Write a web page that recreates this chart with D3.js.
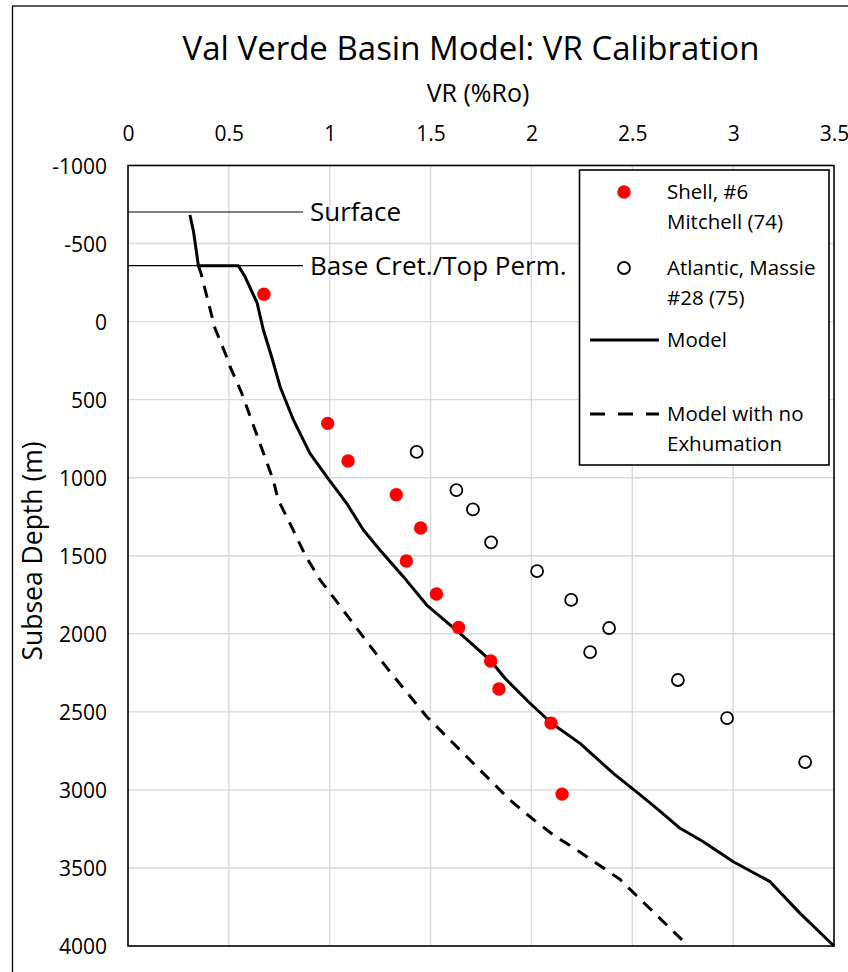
<!DOCTYPE html>
<html>
<head>
<meta charset="utf-8">
<script src="https://cdn.jsdelivr.net/npm/d3@7"></script>
<style>
  body { margin: 0; background: #fff; }
  text { font-family: "Open Sans", Lato, sans-serif; fill: #000; }
</style>
</head>
<body>
<div id="chart"></div>
<script>
// data
const xTicks = [0, 0.5, 1, 1.5, 2, 2.5, 3, 3.5]
const yTicks = [-1000, -500, 0, 500, 1000, 1500, 2000, 2500, 3000, 3500, 4000]

const shellVR = [0.674, 0.990, 1.091, 1.330, 1.451, 1.380, 1.529, 1.639, 1.798, 1.839, 2.097, 2.152]
const shellDepth = [-175, 652, 893, 1109, 1322, 1534, 1745, 1959, 2174, 2354, 2572, 3027]

const atlanticVR = [1.431, 1.628, 1.710, 1.800, 2.028, 2.197, 2.385, 2.291, 2.726, 2.970, 3.357]
const atlanticDepth = [835, 1079, 1203, 1414, 1598, 1783, 1963, 2117, 2296, 2540, 2822]

const modelVR = [0.307, 0.325, 0.349, 0.547, 0.580, 0.640, 0.671, 0.712, 0.754, 0.820, 0.902, 0.985, 1.084, 1.167, 1.249, 1.365, 1.481, 1.646, 1.795, 1.869, 1.993, 2.100, 2.241, 2.406, 2.530, 2.621, 2.737, 2.852, 3.001, 3.183, 3.332, 3.500]
const modelDepth = [-683, -576, -358, -358, -288, -120, 54, 225, 417, 630, 844, 993, 1164, 1335, 1463, 1634, 1816, 1997, 2168, 2285, 2445, 2573, 2702, 2894, 3022, 3118, 3246, 3332, 3460, 3588, 3791, 4000]

const noExhVR = [0.349, 0.362, 0.431, 0.489, 0.506, 0.564, 0.654, 0.720, 0.745, 0.811, 0.878, 0.952, 1.035, 1.134, 1.266, 1.299, 1.481, 1.580, 1.795, 1.861, 1.894, 1.993, 2.109, 2.220, 2.439, 2.472, 2.778]
const noExhDepth = [-358, -309, 43, 225, 289, 459, 780, 1015, 1143, 1314, 1495, 1655, 1794, 1965, 2189, 2243, 2531, 2659, 2937, 3022, 3065, 3172, 3289, 3380, 3573, 3616, 4000]

const refNames = ["Surface", "Base Cret./Top Perm."]
const refDepths = [-702, -358]

const legendNames = [["Shell, #6", "Mitchell (74)"], ["Atlantic, Massie", "#28 (75)"], ["Model"], ["Model with no", "Exhumation"]]

const W = 848, H = 972
const plot = { left: 128, top: 165.5, right: 834, bottom: 946 }

const svg = d3.select("#chart").append("svg")
  .attr("width", W)
  .attr("height", H)

// outer frame (only left/top visible)
svg.append("rect")
  .attr("x", 12.5).attr("y", 6)
  .attr("width", 1000).attr("height", 1000)
  .attr("fill", "none")
  .attr("stroke", "#000")
  .attr("stroke-width", 1.3)

const x = d3.scaleLinear().domain([0, 3.5]).range([plot.left, plot.right])
const y = d3.scaleLinear().domain([-1000, 4000]).range([plot.top, plot.bottom])

// grid
svg.append("g").selectAll("line").data(xTicks.slice(1, -1)).enter().append("line")
  .attr("x1", d => x(d)).attr("x2", d => x(d))
  .attr("y1", plot.top).attr("y2", plot.bottom)
  .attr("stroke", "#d9d9d9").attr("stroke-width", 1.4)
svg.append("g").selectAll("line").data(yTicks.slice(1, -1)).enter().append("line")
  .attr("x1", plot.left).attr("x2", plot.right)
  .attr("y1", d => y(d)).attr("y2", d => y(d))
  .attr("stroke", "#d9d9d9").attr("stroke-width", 1.4)

// axes (labels only, Excel style)
const xAxis = svg.append("g")
  .attr("transform", `translate(0, 141)`)
  .call(d3.axisTop(x).tickValues(xTicks).tickSize(0).tickPadding(0).tickFormat(d => String(d)))
xAxis.select(".domain").remove()
xAxis.selectAll("text").style("font-size", "21px").attr("dy", 0).style("font-family", null)

const yAxis = svg.append("g")
  .attr("transform", `translate(107, 0)`)
  .call(d3.axisLeft(y).tickValues(yTicks).tickSize(0).tickPadding(0).tickFormat(d => String(d)))
yAxis.select(".domain").remove()
yAxis.selectAll("text").style("font-size", "21px").attr("dy", "0.36em").style("font-family", null)

// plot border
svg.append("rect")
  .attr("x", plot.left).attr("y", plot.top)
  .attr("width", plot.right - plot.left).attr("height", plot.bottom - plot.top)
  .attr("fill", "none").attr("stroke", "#000").attr("stroke-width", 1.6)

// titles
svg.append("text")
  .attr("x", 471).attr("y", 60)
  .attr("text-anchor", "middle")
  .style("font-size", "33px")
  .text("Val Verde Basin Model: VR Calibration")

svg.append("text")
  .attr("x", 478).attr("y", 102)
  .attr("text-anchor", "middle")
  .style("font-size", "25px")
  .text("VR (%Ro)")

svg.append("text")
  .attr("transform", `translate(42, 551) rotate(-90)`)
  .attr("text-anchor", "middle")
  .style("font-size", "26.5px")
  .text("Subsea Depth (m)")

// reference horizons
const refs = svg.append("g")
refs.selectAll("line").data(refDepths).enter().append("line")
  .attr("x1", plot.left).attr("x2", 303)
  .attr("y1", d => y(d)).attr("y2", d => y(d))
  .attr("stroke", "#000").attr("stroke-width", 1.2)
refs.selectAll("text").data(refNames).enter().append("text")
  .attr("x", 310)
  .attr("y", (d, i) => y(refDepths[i]))
  .attr("dy", "0.36em")
  .style("font-size", "26px")
  .text(d => d)

// model curves
const line = d3.line().x(d => x(d[0])).y(d => y(d[1]))
const modelPts = modelVR.map((v, i) => [v, modelDepth[i]])
const noExhPts = noExhVR.map((v, i) => [v, noExhDepth[i]])

svg.append("clipPath").attr("id", "clip").append("rect")
  .attr("x", plot.left).attr("y", plot.top - 5)
  .attr("width", plot.right - plot.left + 2).attr("height", plot.bottom - plot.top + 5)

svg.append("path")
  .datum(noExhPts)
  .attr("clip-path", "url(#clip)")
  .attr("d", line)
  .attr("fill", "none").attr("stroke", "#000")
  .attr("stroke-width", 3).attr("stroke-dasharray", "12,9")

svg.append("path")
  .datum(modelPts)
  .attr("d", line)
  .attr("fill", "none").attr("stroke", "#000")
  .attr("stroke-width", 3).attr("stroke-linejoin", "round")

// data points
svg.append("g").selectAll("circle").data(shellVR).enter().append("circle")
  .attr("cx", d => x(d))
  .attr("cy", (d, i) => y(shellDepth[i]))
  .attr("r", 6.7)
  .attr("fill", "#ff0000")

svg.append("g").selectAll("circle").data(atlanticVR).enter().append("circle")
  .attr("cx", d => x(d))
  .attr("cy", (d, i) => y(atlanticDepth[i]))
  .attr("r", 6)
  .attr("fill", "#fff").attr("stroke", "#000").attr("stroke-width", 1.8)

// legend
const legend = svg.append("g")
legend.append("rect")
  .attr("x", 579.5).attr("y", 170)
  .attr("width", 249.5).attr("height", 295)
  .attr("fill", "#fff").attr("stroke", "#000").attr("stroke-width", 1.6)

const rowY = [192, 268, 340, 414]
legend.append("circle").attr("cx", 624).attr("cy", rowY[0]).attr("r", 6.7).attr("fill", "#ff0000")
legend.append("circle").attr("cx", 624).attr("cy", rowY[1]).attr("r", 6)
  .attr("fill", "#fff").attr("stroke", "#000").attr("stroke-width", 1.8)
legend.append("line").attr("x1", 590).attr("x2", 659).attr("y1", rowY[2]).attr("y2", rowY[2])
  .attr("stroke", "#000").attr("stroke-width", 3)
legend.append("line").attr("x1", 590).attr("x2", 659).attr("y1", rowY[3]).attr("y2", rowY[3])
  .attr("stroke", "#000").attr("stroke-width", 3).attr("stroke-dasharray", "15,13")

legendNames.forEach((lines, i) => {
  const t = legend.append("text")
    .attr("x", 667)
    .attr("y", rowY[i] + 7)
    .style("font-size", "20.5px")
  lines.forEach((s, j) => {
    t.append("tspan").attr("x", 667).attr("dy", j === 0 ? 0 : 30).text(s)
  })
})
</script>
</body>
</html>
